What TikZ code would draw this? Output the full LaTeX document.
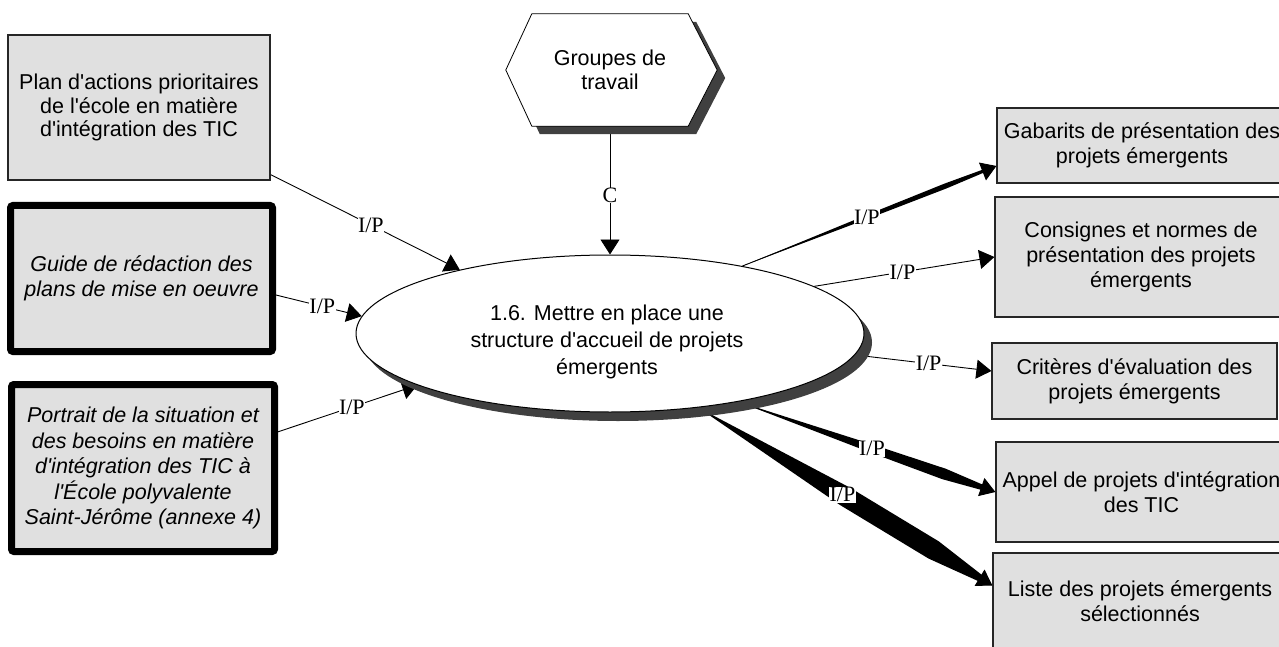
\documentclass[tikz,border=0pt]{standalone}
\usepackage{fontspec}
\setmainfont{Liberation Sans}
\newfontfamily\lblfont{Liberation Serif}
\usetikzlibrary{arrows.meta,calc,shapes.geometric}
\pgfdeclarelayer{bg}
\pgfdeclarelayer{mid}
\pgfsetlayers{bg,mid,main}
\newcommand\ap{\textquotesingle}
\definecolor{boxgray}{RGB}{224,224,224}
\definecolor{shadowgray}{RGB}{64,64,64}
% tapered stroke from #1 to #2, half widths #3, #4, #5 at 50%, 80% and 96% of the way
\newcommand\taper[5]{%
  \fill (#1) -- ($(#1)!0.5!(#2)!#3!90:(#2)$) -- ($(#1)!0.8!(#2)!#4!90:(#2)$)
    -- ($(#1)!0.96!(#2)!#5!90:(#2)$) -- (#2)
    -- ($(#1)!0.96!(#2)!#5!-90:(#2)$) -- ($(#1)!0.8!(#2)!#4!-90:(#2)$)
    -- ($(#1)!0.5!(#2)!#3!-90:(#2)$) -- cycle;}

\begin{document}
\begin{tikzpicture}[x=1pt,y=-1pt,
  box/.style={draw=black!85, line width=1.2pt, fill=boxgray, inner sep=0pt,
    align=center, font=\fontsize{21.5}{25}\selectfont},
  heavybox/.style={box, draw=black, line width=7pt, rounded corners=2.5pt,
    font=\fontsize{21.5}{25.5}\selectfont\itshape},
  proc/.style={ellipse, draw=black, line width=1pt, fill=white, inner sep=0pt,
    minimum width=508pt, minimum height=157pt},
  flow/.style={draw=black, line width=0.9pt, -{Triangle[length=15pt,width=19pt]}},
  lbl/.style={fill=white, inner sep=0.5pt, font=\lblfont\fontsize{22}{22}\selectfont},
]
\useasboundingbox (0,0) rectangle (1279,647);

% ---------- left inputs ----------
\node[box, minimum width=262pt, minimum height=145pt,
  font=\fontsize{21.5}{23.5}\selectfont] (plan) at (139,107.5)
  {Plan d\ap actions prioritaires\\de l\ap école en matière\\d\ap intégration des TIC};
\node[heavybox, minimum width=262pt, minimum height=146pt] (guide) at (141.5,278.5)
  {Guide de rédaction des\\plans de mise en oeuvre};
\node[heavybox, minimum width=263pt, minimum height=167pt] (portrait) at (143,468)
  {Portrait de la situation et\\des besoins en matière\\d\ap intégration des TIC à\\l\ap École polyvalente\\Saint-Jérôme (annexe 4)};

% ---------- control: hexagon ----------
\node[align=center, inner sep=0pt, minimum width=156pt, minimum height=112pt,
  font=\fontsize{21.5}{24}\selectfont] (grp) at (610,70) {Groupes de\\travail};
\begin{pgfonlayer}{mid}
  \fill[shadowgray]
    ($(grp.west)+(-18,8)$) -- ($(grp.north west)+(8,8)$) -- ($(grp.north east)+(8,8)$)
    -- ($(grp.east)+(37,8)$) -- ($(grp.south east)+(8,8)$) -- ($(grp.south west)+(8,8)$) -- cycle;
  \draw[black, line width=0.8pt, fill=white]
    ($(grp.west)+(-26,0)$) -- (grp.north west) -- (grp.north east)
    -- ($(grp.east)+(29,0)$) -- (grp.south east) -- (grp.south west) -- cycle;
\end{pgfonlayer}

% ---------- process ----------
\node[proc] (proc) at (610,333.5) {};
\begin{pgfonlayer}{mid}
  \fill[shadowgray] ($(proc.center)+(8,9)$) ellipse [x radius=254, y radius=78.5];
\end{pgfonlayer}
\node[align=center, inner sep=0pt, font=\fontsize{21.5}{27}\selectfont] (proctext)
  at (607,342) {1.6. Mettre en place une\\structure d\ap accueil de projets\\émergents};

% ---------- outputs ----------
\node[box, minimum width=290pt, minimum height=75pt] (gab) at (1142,145.5)
  {Gabarits de présentation des\\projets émergents};
\node[box, minimum width=292pt, minimum height=120pt] (cons) at (1141,257)
  {Consignes et normes de\\présentation des projets\\émergents};
\node[box, minimum width=285pt, minimum height=76pt] (crit) at (1134.5,381)
  {Critères d\ap évaluation des\\projets émergents};
\node[box, minimum width=291pt, minimum height=100pt] (appel) at (1141.5,492)
  {Appel de projets d\ap intégration\\des TIC};
\node[box, minimum width=294pt, minimum height=96pt] (liste) at (1140,601)
  {Liste des projets émergents\\sélectionnés};

% ---------- connectors ----------
\begin{pgfonlayer}{bg}
  % inputs
  \draw[flow] (plan.-27.3) -- node[lbl, pos=0.53] {I/P} (proc.157.4);
  \draw[flow] (guide.-7.8) -- node[lbl, pos=0.54] {I/P} (proc.176.4);
  \draw[flow] (portrait.15.7) -- node[lbl, pos=0.53] {I/P} (proc.195.2);
  % control
  \draw[flow] (grp.south) -- node[lbl, pos=0.54] {C} (grp.south |- proc.north);

  % tapered output strokes
  \coordinate (o1s) at (proc.27.4);   \coordinate (o1e) at (gab.188.9);
  \coordinate (o4s) at (proc.-28.9);  \coordinate (o4e) at (appel.west);
  \coordinate (o5s) at (proc.-40.8);  \coordinate (o5e) at (liste.174.3);
  \taper{o1s}{o1e}{2pt}{2.6pt}{1.5pt}
  \taper{o4s}{o4e}{4pt}{5.5pt}{2.5pt}
  \taper{o5s}{o5e}{10pt}{10pt}{3.5pt}

  % outputs
  \draw[flow] (o1s) -- node[lbl, pos=0.49] {I/P} (o1e);
  \draw[flow] (proc.13.5) -- node[lbl, pos=0.49] {I/P} (cons.west);
  \draw[flow] (proc.-5.4) -- node[lbl, pos=0.54] {I/P} (crit.176.4);
  \draw[flow] (o4s) -- node[lbl, pos=0.52] {I/P} (o4e);
  \draw[flow] (o5s) -- node[lbl, pos=0.49] {I/P} (o5e);
\end{pgfonlayer}
\end{tikzpicture}
\end{document}
